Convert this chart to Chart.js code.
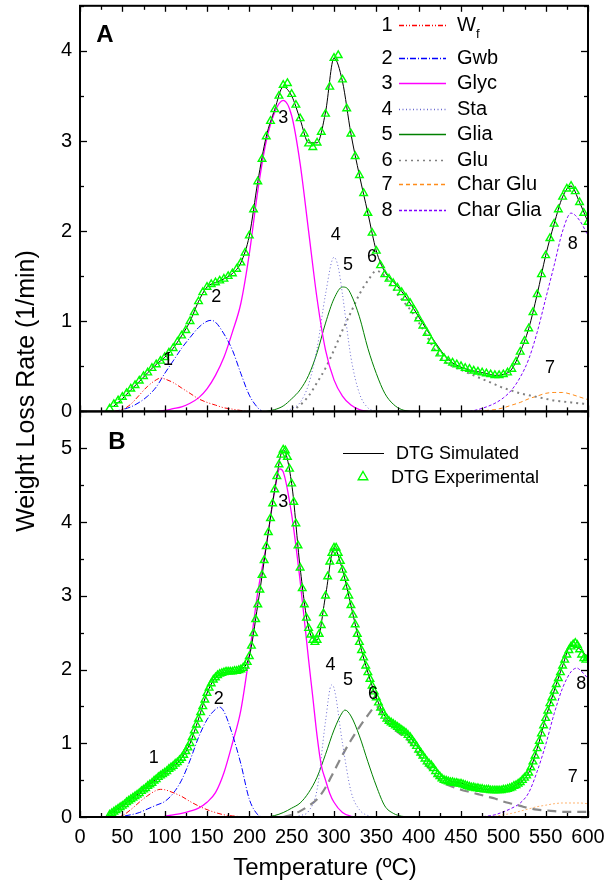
<!DOCTYPE html>
<html>
<head>
<meta charset="utf-8">
<script src="https://cdn.jsdelivr.net/npm/chart.js@4"></script>
<style>
  html, body { margin: 0; padding: 0; background: #fff; }
  #wrap { position: relative; width: 609px; height: 890px; }
</style>
</head>
<body>
<div id="wrap"><canvas id="dtg" width="609" height="890" style="width:609px;height:890px"></canvas></div>
<script>
// Messraster (Temperatur in °C)
const steps = (start, step, n) => Array.from({length: n}, (_, i) => start + i * step);

// ---------- Panel A ----------
// DTG experimentell, 35..600 in 5er Schritten
const expA_T = steps(35, 5, 114);
const expA = [
  0.03, 0.08, 0.12, 0.16, 0.20, 0.25, 0.29, 0.34, 0.39, 0.43,
  0.48, 0.52, 0.56, 0.60, 0.65, 0.70, 0.77, 0.84, 0.90, 1.00,
  1.10, 1.22, 1.32, 1.38, 1.41, 1.43, 1.45, 1.47, 1.50, 1.53,
  1.58, 1.65, 1.76, 1.95, 2.24, 2.55, 2.80, 3.05, 3.22, 3.35,
  3.50, 3.62, 3.64, 3.52, 3.40, 3.25, 3.08, 2.97, 2.93, 2.98,
  3.10, 3.30, 3.60, 3.92, 3.95, 3.68, 3.36, 3.08, 2.83, 2.62,
  2.42, 2.20, 1.98, 1.78, 1.62, 1.52, 1.47, 1.42, 1.37, 1.32,
  1.26, 1.20, 1.12, 1.03, 0.95, 0.87, 0.78, 0.70, 0.64, 0.59,
  0.56, 0.54, 0.52, 0.50, 0.48, 0.47, 0.45, 0.44, 0.43, 0.42,
  0.41, 0.40, 0.40, 0.41, 0.43, 0.47, 0.55, 0.66, 0.78, 0.92,
  1.10, 1.30, 1.52, 1.73, 1.92, 2.08, 2.24, 2.38, 2.47, 2.50,
  2.44, 2.32, 2.20, 2.10
];
// DTG simuliert, 40..600 in 10er Schritten
const simA_T = steps(40, 10, 57);
const simA = [
  0.06, 0.14, 0.24, 0.33, 0.43, 0.52, 0.60,
  0.70, 0.84, 1.00, 1.22, 1.38, 1.43, 1.47, 1.53, 1.65, 1.95,
  2.55, 3.05, 3.35, 3.60, 3.50, 3.24, 2.98, 2.98, 3.32, 3.92,
  3.66, 3.08, 2.62, 2.20, 1.78, 1.55, 1.44, 1.33, 1.20, 1.05,
  0.90, 0.76, 0.63, 0.54, 0.49, 0.46, 0.44, 0.42, 0.40, 0.41,
  0.47, 0.66, 0.92, 1.30, 1.73, 2.08, 2.38, 2.50, 2.32, 2.10
];
// Einzelkomponenten
const wfA_T = [40, 50, 60, 70, 80, 90, 95, 100, 110, 120, 130, 140, 150, 160, 170, 180, 190, 200];
const wfA   = [0, 0.02, 0.08, 0.18, 0.28, 0.35, 0.37, 0.36, 0.32, 0.26, 0.20, 0.14, 0.10, 0.07, 0.04, 0.025, 0.01, 0];
const gwbA_T = [40, 50, 60, 70, 80, 90, 100, 110, 120, 130, 140, 150, 155, 160, 170, 180, 190, 200, 210, 215];
const gwbA   = [0, 0.02, 0.05, 0.10, 0.17, 0.27, 0.42, 0.56, 0.70, 0.82, 0.93, 1.00, 1.01, 0.99, 0.86, 0.68, 0.42, 0.18, 0.04, 0];
const glycA_T = [90, 100, 110, 120, 130, 140, 150, 160, 170, 180, 190, 200, 210, 220, 230, 240, 250, 260, 270, 280, 290, 300, 310, 320, 330, 340];
const glycA   = [0, 0.01, 0.03, 0.05, 0.09, 0.15, 0.25, 0.40, 0.60, 0.88, 1.20, 1.75, 2.45, 3.00, 3.32, 3.45, 3.28, 2.75, 2.00, 1.25, 0.68, 0.35, 0.17, 0.07, 0.02, 0];
const staA_T = [240, 250, 260, 270, 280, 290, 300, 305, 310, 320, 330, 340, 350];
const staA   = [0, 0.03, 0.10, 0.30, 0.70, 1.30, 1.71, 1.60, 1.30, 0.60, 0.20, 0.04, 0];
const gliaA_T = [220, 230, 240, 250, 260, 270, 280, 290, 300, 310, 315, 320, 330, 340, 350, 360, 370, 380, 390];
const gliaA   = [0, 0.02, 0.06, 0.14, 0.24, 0.40, 0.65, 0.98, 1.25, 1.38, 1.37, 1.30, 1.05, 0.70, 0.42, 0.20, 0.08, 0.02, 0];
const gluA_T = [250, 260, 270, 280, 290, 300, 310, 320, 330, 340, 350, 360, 370, 380, 390, 400, 410, 420,
                430, 440, 450, 460, 470, 480, 490, 500, 510, 520, 530, 540, 550, 560, 570, 580, 590, 600];
const gluA   = [0, 0.07, 0.17, 0.32, 0.48, 0.68, 0.90, 1.10, 1.30, 1.45, 1.56, 1.50, 1.36, 1.24, 1.13, 0.99, 0.83, 0.67,
                0.56, 0.50, 0.46, 0.42, 0.38, 0.34, 0.30, 0.26, 0.23, 0.20, 0.18, 0.16, 0.14, 0.12, 0.11, 0.10, 0.09, 0.08];
const charGluA_T = [470, 480, 490, 500, 510, 520, 530, 540, 550, 560, 570, 580, 590, 600];
const charGluA   = [0, 0.01, 0.02, 0.04, 0.07, 0.10, 0.14, 0.17, 0.20, 0.21, 0.21, 0.19, 0.16, 0.13];
const charGliaA_T = [460, 470, 480, 490, 500, 510, 520, 530, 540, 550, 560, 570, 580, 590, 600];
const charGliaA   = [0, 0.02, 0.05, 0.09, 0.15, 0.24, 0.38, 0.58, 0.88, 1.25, 1.62, 2.00, 2.20, 2.12, 1.95];

// ---------- Panel B ----------
// DTG experimentell, 35..600 in 2.5er Schritten
const expB_T = steps(35, 2.5, 227);
const expB = [
  0.03, 0.05, 0.07, 0.09, 0.11, 0.13, 0.15, 0.17, 0.20, 0.22, 0.24, 0.26, 0.28, 0.30, 0.32, 0.35, 0.37, 0.39, 0.42, 0.44,
  0.46, 0.49, 0.51, 0.54, 0.56, 0.58, 0.60, 0.62, 0.65, 0.67, 0.69, 0.72, 0.74, 0.77, 0.80, 0.84, 0.89, 0.94, 1.00, 1.08,
  1.17, 1.25, 1.33, 1.42, 1.50, 1.59, 1.68, 1.75, 1.81, 1.86, 1.89, 1.92, 1.94, 1.95, 1.96, 1.97, 1.97, 1.97, 1.97, 1.98,
  1.98, 1.99, 2.00, 2.02, 2.05, 2.10, 2.18, 2.32, 2.49, 2.68, 2.88, 3.08, 3.28, 3.48, 3.67, 3.86, 4.05, 4.25, 4.44, 4.62,
  4.78, 4.91, 4.98, 4.97, 4.88, 4.72, 4.52, 4.27, 3.98, 3.68, 3.38, 3.10, 2.88, 2.70, 2.56, 2.47, 2.40, 2.37, 2.40, 2.48,
  2.60, 2.76, 3.00, 3.26, 3.46, 3.58, 3.65, 3.65, 3.58, 3.47, 3.35, 3.24, 3.12, 3.00, 2.87, 2.74, 2.61, 2.48, 2.37, 2.26,
  2.16, 2.05, 1.96, 1.87, 1.78, 1.70, 1.62, 1.55, 1.48, 1.42, 1.37, 1.33, 1.30, 1.28, 1.26, 1.24, 1.22, 1.20, 1.18, 1.16,
  1.14, 1.11, 1.08, 1.04, 1.00, 0.96, 0.91, 0.87, 0.83, 0.79, 0.75, 0.72, 0.70, 0.66, 0.62, 0.58, 0.55, 0.52, 0.50, 0.49,
  0.48, 0.47, 0.47, 0.46, 0.46, 0.45, 0.45, 0.44, 0.43, 0.42, 0.41, 0.40, 0.40, 0.39, 0.39, 0.38, 0.38, 0.37, 0.37, 0.37,
  0.36, 0.36, 0.36, 0.36, 0.36, 0.36, 0.37, 0.37, 0.38, 0.39, 0.40, 0.42, 0.43, 0.45, 0.47, 0.50, 0.53, 0.56, 0.60, 0.67,
  0.75, 0.83, 0.93, 1.03, 1.13, 1.24, 1.34, 1.44, 1.54, 1.62, 1.71, 1.80, 1.88, 1.96, 2.05, 2.13, 2.20, 2.26, 2.31, 2.34,
  2.36, 2.33, 2.27, 2.20, 2.15, 2.13, 2.16
];
const simB_T = steps(40, 10, 57);
const simB = [
  0.07, 0.15, 0.24, 0.32, 0.42, 0.51, 0.60,
  0.69, 0.80, 1.00, 1.33, 1.68, 1.89, 1.96, 1.97, 2.00, 2.18,
  2.88, 3.67, 4.44, 4.98, 4.52, 3.38, 2.56, 2.40, 3.00, 3.65,
  3.35, 2.87, 2.37, 1.96, 1.62, 1.37, 1.26, 1.18, 1.08, 0.93,
  0.80, 0.66, 0.54, 0.48, 0.46, 0.42, 0.39, 0.37, 0.36, 0.37,
  0.40, 0.47, 0.60, 0.93, 1.34, 1.71, 2.05, 2.33, 2.28, 2.16
];
const wfB_T = [40, 50, 60, 70, 80, 90, 95, 100, 110, 120, 130, 140, 150, 160, 170, 180, 190, 200];
const wfB   = [0, 0.02, 0.10, 0.20, 0.29, 0.36, 0.375, 0.37, 0.33, 0.28, 0.21, 0.15, 0.10, 0.06, 0.03, 0.015, 0.005, 0];
const gwbB_T = [40, 50, 60, 70, 80, 90, 100, 110, 120, 130, 140, 150, 160, 165, 170, 180, 190, 200, 210, 215];
const gwbB   = [0, 0.01, 0.03, 0.06, 0.11, 0.16, 0.21, 0.32, 0.50, 0.77, 1.08, 1.32, 1.46, 1.49, 1.43, 1.12, 0.72, 0.24, 0.03, 0];
const glycB_T = [100, 110, 120, 130, 140, 150, 160, 170, 180, 190, 200, 210, 220, 230, 236, 240, 250, 260, 270, 275,
                 280, 285, 290, 295, 300, 310, 320, 330];
const glycB   = [0.01, 0.03, 0.05, 0.08, 0.12, 0.20, 0.33, 0.60, 1.00, 1.45, 2.20, 3.05, 3.68, 4.43, 4.72, 4.68, 4.10, 3.20, 2.13, 1.62,
                 1.10, 0.70, 0.50, 0.32, 0.20, 0.06, 0.01, 0];
const staB_T = [250, 260, 270, 280, 290, 297, 300, 310, 320, 330, 340, 350];
const staB   = [0, 0.02, 0.08, 0.37, 1.30, 1.79, 1.75, 1.00, 0.35, 0.10, 0.02, 0];
const gliaB_T = [220, 230, 240, 250, 260, 270, 280, 290, 300, 310, 313, 320, 330, 340, 350, 360, 370, 380, 390];
const gliaB   = [0, 0.02, 0.06, 0.12, 0.19, 0.33, 0.54, 0.85, 1.18, 1.42, 1.45, 1.37, 1.10, 0.75, 0.42, 0.15, 0.05, 0.01, 0];
const gluB_T = [240, 250, 260, 270, 280, 290, 300, 310, 320, 330, 340, 350, 360, 370, 380, 390, 400, 410, 420,
                430, 440, 450, 460, 470, 480, 490, 500, 510, 520, 530, 540, 550, 560, 570, 580, 590, 600];
const gluB   = [0, 0.03, 0.08, 0.15, 0.24, 0.40, 0.62, 0.84, 1.04, 1.22, 1.38, 1.50, 1.33, 1.20, 1.11, 1.01, 0.85, 0.69, 0.56,
                0.46, 0.41, 0.37, 0.34, 0.31, 0.28, 0.25, 0.21, 0.18, 0.15, 0.12, 0.10, 0.09, 0.08, 0.07, 0.07, 0.07, 0.07];
const charGluB_T = [480, 490, 500, 510, 520, 530, 540, 550, 560, 570, 580, 590, 600];
const charGluB   = [0, 0.01, 0.03, 0.05, 0.08, 0.11, 0.14, 0.16, 0.18, 0.19, 0.19, 0.19, 0.18];
const charGliaB_T = [470, 480, 490, 500, 510, 520, 530, 540, 550, 560, 570, 580, 587, 590, 600];
const charGliaB   = [0, 0.01, 0.03, 0.07, 0.12, 0.19, 0.33, 0.62, 0.98, 1.40, 1.75, 1.97, 2.02, 2.00, 1.88];

// Beschriftungen der Peaks: [Text, Temperatur, Wert]
const tagsA = [['1', 104, 0.57], ['2', 161, 1.27], ['3', 240, 3.26], ['4', 302, 1.96],
               ['5', 316.5, 1.62], ['6', 345, 1.71], ['7', 555, 0.48], ['8', 582, 1.86]];
const tagsB = [['1', 87, 0.80], ['2', 164, 1.60], ['3', 240, 4.27], ['4', 296, 2.06],
               ['5', 316.5, 1.86], ['6', 346, 1.67], ['7', 582, 0.54], ['8', 592, 1.80]];

const FONT = '"Liberation Sans", Arial, sans-serif';
const GREEN = '#00ff00';

const pts = (xs, ys) => xs.map((x, i) => ({x, y: ys[i]}));

function curve(label, xs, ys, axis, color, dash, width) {
  return {
    label, data: pts(xs, ys), yAxisID: axis,
    borderColor: color, borderDash: dash, borderWidth: width || 1,
    pointRadius: 0, fill: false, cubicInterpolationMode: 'monotone', order: 2
  };
}
function measured(label, xs, ys, axis) {
  return {
    label, data: pts(xs, ys), yAxisID: axis, showLine: false,
    pointStyle: 'triangle', pointRadius: 4.4, pointBorderWidth: 1.4,
    pointBorderColor: GREEN, pointBackgroundColor: 'rgba(0,0,0,0)', order: 0
  };
}
function simulated(label, xs, ys, axis) {
  return {
    label, data: pts(xs, ys), yAxisID: axis, borderColor: '#000', borderWidth: 1,
    pointRadius: 0, cubicInterpolationMode: 'monotone', order: 1
  };
}

// Legende A: Nummer, Name, Farbe, Strichmuster
const legendA = [
  ['1', 'W', '#ff0000', [5, 2, 1, 2, 1, 2]],
  ['2', 'Gwb', '#0000ff', [6, 2, 1, 2]],
  ['3', 'Glyc', '#ff00ff', []],
  ['4', 'Sta', '#6a6ad0', [1, 2.5]],
  ['5', 'Glia', '#008000', []],
  ['6', 'Glu', '#808080', [2, 4]],
  ['7', 'Char Glu', '#ff8c1a', [4, 3]],
  ['8', 'Char Glia', '#8000ff', [3, 2]]
];
const legendRows = [25, 58, 83, 109, 134, 160, 184, 210];

const datasets = [
  measured('DTG Experimental A', expA_T, expA, 'yA'),
  measured('DTG Experimental B', expB_T, expB, 'yB'),
  simulated('DTG Simulated A', simA_T, simA, 'yA'),
  simulated('DTG Simulated B', simB_T, simB, 'yB'),
  curve('Wf', wfA_T, wfA, 'yA', '#ff0000', [5, 2, 1, 2, 1, 2]),
  curve('Gwb', gwbA_T, gwbA, 'yA', '#0000ff', [6, 2, 1, 2]),
  curve('Glyc', glycA_T, glycA, 'yA', '#ff00ff', [], 1.3),
  curve('Sta', staA_T, staA, 'yA', '#6a6ad0', [1, 2.5]),
  curve('Glia', gliaA_T, gliaA, 'yA', '#008000', []),
  curve('Glu', gluA_T, gluA, 'yA', '#808080', [2, 4], 2),
  curve('Char Glu', charGluA_T, charGluA, 'yA', '#ff8c1a', [4, 3]),
  curve('Char Glia', charGliaA_T, charGliaA, 'yA', '#8000ff', [3, 2]),
  curve('Wf', wfB_T, wfB, 'yB', '#ff0000', [5, 2, 1, 2, 1, 2]),
  curve('Gwb', gwbB_T, gwbB, 'yB', '#0000ff', [6, 2, 1, 2]),
  curve('Glyc', glycB_T, glycB, 'yB', '#ff00ff', [], 1.3),
  curve('Sta', staB_T, staB, 'yB', '#6a6ad0', [1, 2.5]),
  curve('Glia', gliaB_T, gliaB, 'yB', '#008000', []),
  curve('Glu', gluB_T, gluB, 'yB', '#888888', [9, 6], 2.2),
  curve('Char Glu', charGluB_T, charGluB, 'yB', '#ffb470', [2, 2]),
  curve('Char Glia', charGliaB_T, charGliaB, 'yB', '#8000ff', [3, 2])
];

// Rahmen, Innenticks, Legenden und Beschriftungen
const decor = {
  id: 'decor',
  afterDatasetsDraw(chart) {
    const {ctx, scales: {x, yA, yB}} = chart;
    const seg = (x1, y1, x2, y2) => { ctx.beginPath(); ctx.moveTo(x1, y1); ctx.lineTo(x2, y2); ctx.stroke(); };
    ctx.save();
    ctx.strokeStyle = '#000';
    ctx.setLineDash([]);
    for (const y of [yA, yB]) {
      ctx.lineWidth = 1.3;
      for (let v = 0; v <= y.max + 1e-9; v += 0.5) {
        const py = Math.round(y.getPixelForValue(v)) + 0.5;
        const len = v % 1 === 0 ? 7 : 4;
        seg(x.left, py, x.left + len, py);
        seg(x.right, py, x.right - len, py);
      }
      for (let t = 0; t <= 600; t += 25) {
        const px = Math.round(x.getPixelForValue(t)) + 0.5;
        const len = t % 50 === 0 ? 6 : 4;
        seg(px, y.bottom, px, y.bottom - len);
        seg(px, y.top, px, y.top + len);
      }
      ctx.lineWidth = 2;
      ctx.strokeRect(x.left, y.top, x.right - x.left, y.bottom - y.top);
    }

    ctx.fillStyle = '#000';
    ctx.textAlign = 'center';
    ctx.textBaseline = 'middle';
    ctx.font = '18px ' + FONT;
    tagsA.forEach(([s, t, v]) => ctx.fillText(s, x.getPixelForValue(t), yA.getPixelForValue(v)));
    tagsB.forEach(([s, t, v]) => ctx.fillText(s, x.getPixelForValue(t), yB.getPixelForValue(v)));

    ctx.font = 'bold 24px ' + FONT;
    ctx.fillText('A', 105, 35);
    ctx.fillText('B', 117, 442);

    // Legende Panel A
    legendA.forEach(([n, name, color, dash], i) => {
      const ry = legendRows[i];
      ctx.font = '20px ' + FONT;
      ctx.fillStyle = '#000';
      ctx.textAlign = 'center';
      ctx.fillText(n, 387, ry);
      ctx.strokeStyle = color;
      ctx.lineWidth = 1.6;
      ctx.setLineDash(dash);
      seg(399, ry + 0.5, 446, ry + 0.5);
      ctx.setLineDash([]);
      ctx.textAlign = 'left';
      ctx.fillText(name, 457, ry);
      if (i === 0) {
        ctx.font = '13px ' + FONT;
        ctx.fillText('f', 476, ry + 9);
      }
    });

    // Legende Panel B
    ctx.font = '18px ' + FONT;
    ctx.textAlign = 'left';
    ctx.strokeStyle = '#000';
    ctx.lineWidth = 1.2;
    seg(343, 453.5, 384, 453.5);
    ctx.fillText('DTG Simulated', 396, 454);
    ctx.strokeStyle = GREEN;
    ctx.lineWidth = 1.4;
    const r = 5.5, cx = 363, cy = 477;
    ctx.beginPath();
    ctx.moveTo(cx, cy - r);
    ctx.lineTo(cx + r * Math.sin(2 * Math.PI / 3), cy - r * Math.cos(2 * Math.PI / 3));
    ctx.lineTo(cx + r * Math.sin(4 * Math.PI / 3), cy - r * Math.cos(4 * Math.PI / 3));
    ctx.closePath();
    ctx.stroke();
    ctx.fillText('DTG Experimental', 391, 478);

    // Achsentitel
    ctx.textAlign = 'center';
    ctx.font = '24px ' + FONT;
    ctx.fillText('Temperature (ºC)', 325, 868);
    ctx.translate(27, 391);
    ctx.rotate(-Math.PI / 2);
    ctx.font = '25px ' + FONT;
    ctx.fillText('Weight Loss Rate (1/min)', 0, 0);
    ctx.restore();
  }
};

// keine automatischen Randabstände durch Ticklabels
const noPad = s => { s.paddingTop = 0; s.paddingBottom = 0; s.paddingLeft = 0; s.paddingRight = 0; };

const yAxis = (max) => ({
  type: 'linear', position: 'left', stack: 'panels', stackWeight: 1,
  min: 0, max,
  border: {display: false},
  grid: {display: false, drawTicks: false},
  ticks: {stepSize: 1, includeBounds: false, padding: 8, color: '#000', font: {family: FONT, size: 20}},
  afterFit: s => { s.width = 80; noPad(s); }
});

new Chart(document.getElementById('dtg'), {
  type: 'line',
  data: {datasets},
  options: {
    responsive: false,
    devicePixelRatio: 1,
    animation: false,
    events: [],
    layout: {padding: {left: 0, right: 21, top: 5, bottom: 0}},
    plugins: {legend: {display: false}, tooltip: {enabled: false}},
    scales: {
      x: {
        type: 'linear', min: 0, max: 600,
        border: {display: false},
        grid: {display: false, drawTicks: false},
        ticks: {stepSize: 50, padding: 8, maxRotation: 0, color: '#000', font: {family: FONT, size: 20}},
        afterFit: s => { s.height = 73; noPad(s); }
      },
      yB: yAxis(5.5),
      yA: yAxis(4.5)
    }
  },
  plugins: [decor]
});
</script>
</body>
</html>
